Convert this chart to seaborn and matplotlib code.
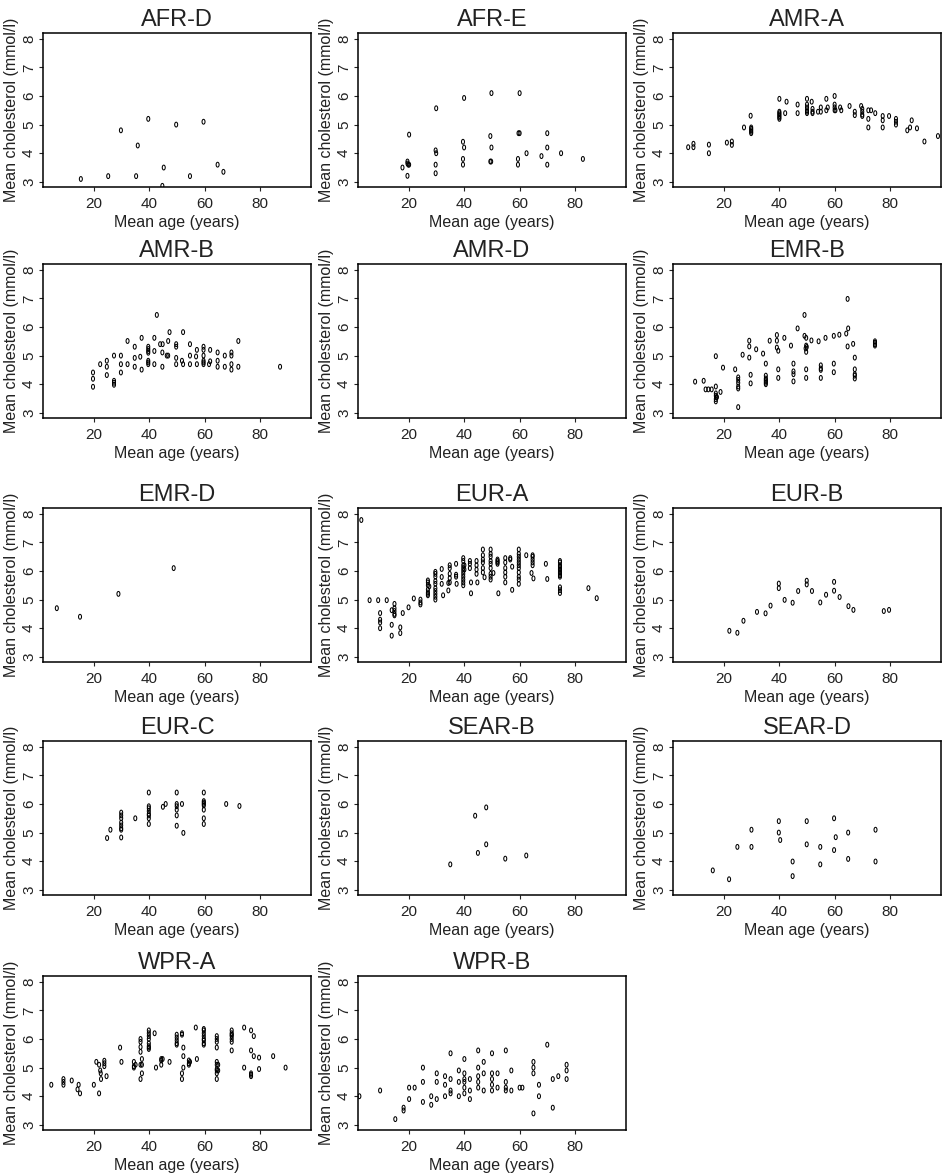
import matplotlib
matplotlib.use("Agg")
import matplotlib.pyplot as plt
import numpy as np
import pandas as pd
import seaborn as sns
from matplotlib.path import Path
from matplotlib.markers import MarkerStyle

# ---- data: (mean age in years, mean cholesterol in mmol/l) per WHO subregion ----
AFR_D = [(15.2, 3.1), (25.1, 3.2), (29.7, 4.8), (35.2, 3.2), (35.8, 4.27), (39.6, 5.2),
         (44.7, 2.86), (45.2, 3.5), (49.7, 5.0), (54.7, 3.2), (59.6, 5.1), (64.7, 3.6),
         (66.8, 3.35)]

AFR_E = [(17.6, 3.5), (19.4, 3.71), (19.4, 3.64), (19.7, 3.6), (20, 3.6), (19.4, 3.21),
         (20, 4.65), (29.6, 4.1), (29.8, 4.0), (29.6, 3.6), (29.6, 3.3), (29.8, 5.57),
         (39.9, 5.93), (39.5, 4.4), (39.9, 4.2), (39.5, 3.8), (39.5, 3.6), (49.8, 6.1),
         (49.4, 4.6), (49.8, 4.2), (49.4, 3.71), (49.7, 3.71), (60, 6.1), (59.6, 4.7),
         (60, 4.7), (59.4, 3.8), (59.4, 3.6), (62.5, 4.0), (67.9, 3.9), (70, 4.7),
         (70, 4.2), (70, 3.6), (75, 4.0), (82.9, 3.8)]

AMR_A = [(7.0, 4.21), (8.9, 4.33), (8.9, 4.21), (14.5, 4.3), (14.5, 4.0), (21, 4.37),
         (22.8, 4.41), (22.8, 4.29), (27.2, 4.9), (29.6, 5.31), (29.8, 4.9), (29.8, 4.85),
         (29.8, 4.8), (29.8, 4.75), (29.8, 4.7), (40, 5.9), (40, 5.45), (40, 5.4),
         (40, 5.35), (40, 5.3), (40, 5.25), (40, 5.2), (42.6, 5.8), (42.1, 5.4),
         (46.6, 5.7), (46.6, 5.4), (50, 5.9), (50, 5.7), (50, 5.6), (50, 5.5), (50, 5.45),
         (50, 5.4), (51.7, 5.8), (52, 5.55), (52, 5.45), (52, 5.4), (54, 5.45), (55, 5.45),
         (55, 5.6), (57, 5.9), (57, 5.5), (57.5, 5.6), (60, 6.0), (60, 5.7), (60, 5.6),
         (60, 5.5), (60.3, 5.5), (62, 5.6), (62.4, 5.5), (65.4, 5.65), (67.3, 5.45),
         (67.3, 5.33), (69.6, 5.65), (70, 5.55), (70, 5.45), (70, 5.35), (70, 5.3),
         (72.2, 5.5), (72.2, 5.2), (72.2, 4.9), (73.2, 5.5), (74.7, 5.4), (77.4, 5.3),
         (77.4, 5.15), (77.4, 4.9), (79.7, 5.3), (82.2, 5.2), (82.2, 5.1), (82.2, 5.0),
         (86.3, 4.8), (87.3, 4.9), (87.9, 5.15), (89.8, 4.87), (92.5, 4.41), (97.4, 4.6)]

AMR_B = [(19.6, 4.41), (19.6, 4.19), (19.6, 3.91), (22.2, 4.7), (24.6, 4.82), (24.6, 4.61),
         (24.6, 4.32), (27.2, 5.0), (27.2, 4.12), (27.2, 4.05), (27.2, 3.98), (29.7, 5.0),
         (29.7, 4.7), (29.7, 4.41), (32.1, 5.51), (32.1, 4.7), (34.7, 5.31), (34.7, 4.92),
         (34.7, 4.61), (36.7, 4.96), (37.2, 5.62), (37.2, 4.51), (39.6, 5.31), (39.6, 5.23),
         (39.6, 5.16), (39.6, 5.1), (39.6, 4.82), (39.6, 4.76), (39.6, 4.7), (41.8, 5.62),
         (41.8, 5.16), (41.8, 4.7), (42.7, 6.42), (43.9, 5.4), (44.8, 5.4), (44.7, 5.11),
         (44.7, 4.61), (46.8, 5.51), (46.8, 5.0), (46.3, 5.0), (47.3, 5.82), (49.7, 5.4),
         (49.7, 5.31), (49.7, 4.92), (49.7, 4.7), (51.8, 4.82), (52.2, 4.7), (52.2, 5.82),
         (54.7, 5.4), (54.7, 5.0), (54.7, 4.7), (57.2, 5.2), (56.9, 4.97), (57.2, 4.7),
         (59.6, 5.31), (59.6, 5.2), (59.6, 5.0), (59.6, 4.82), (59.6, 4.76), (59.6, 4.7),
         (62, 5.2), (62, 4.8), (61.6, 4.7), (64.7, 5.11), (64.7, 4.82), (64.7, 4.61),
         (67.3, 5.0), (67.3, 4.61), (69.7, 5.11), (69.7, 5.0), (69.7, 4.7), (69.7, 4.51),
         (72.2, 5.51), (72.2, 4.61), (87.3, 4.61)]

AMR_D = []

EMR_B = [(9.5, 4.09), (12.6, 4.12), (13.3, 3.82), (14.3, 3.82), (15.5, 3.82), (17, 4.98),
         (17, 3.92), (17, 3.68), (17, 3.6), (17.2, 3.55), (17, 3.48), (17, 3.4), (17.4, 3.55),
         (18.7, 3.73), (19.6, 4.58), (24, 4.52), (25.1, 4.24), (25.1, 4.15), (25.1, 4.05),
         (25.1, 3.92), (25.1, 3.85), (25.1, 3.2), (26.7, 5.03), (29.1, 5.52), (29.1, 5.32),
         (29.1, 4.93), (29.6, 4.33), (29.6, 4.03), (31.6, 5.22), (34.1, 5.07), (35.1, 4.72),
         (35.1, 4.3), (35.1, 4.2), (35.1, 4.15), (35.1, 4.1), (35.1, 4.05), (35.1, 4.0),
         (36.5, 5.52), (39.1, 5.72), (39.1, 5.52), (39.1, 5.28), (39.6, 5.17), (39.6, 4.52),
         (39.6, 4.22), (41.8, 5.62), (44.2, 5.35), (45.1, 4.72), (45.1, 4.45), (45.1, 4.35),
         (45.1, 4.1), (46.6, 5.95), (49.1, 6.42), (49.1, 5.69), (49.7, 5.62), (49.7, 5.35),
         (49.9, 5.3), (49.5, 5.25), (49.7, 5.13), (49.7, 4.52), (49.7, 4.22), (51.6, 5.53),
         (54.2, 5.5), (55, 4.66), (55, 4.55), (55, 4.5), (55, 4.22), (56.7, 5.62),
         (59.7, 5.69), (59.7, 4.72), (59.7, 4.42), (61.7, 5.73), (64.2, 5.77), (64.7, 6.98),
         (64.9, 5.95), (64.7, 5.32), (66.7, 5.41), (67.3, 4.93), (67.3, 4.52), (67.3, 4.35),
         (67.3, 4.3), (67.3, 4.2), (74.6, 5.5), (74.6, 5.45), (74.6, 5.4), (74.6, 5.35)]

EMR_D = [(6.5, 4.7), (14.9, 4.4), (28.8, 5.2), (48.8, 6.1)]

EUR_A = [(2.7, 7.78), (5.7, 4.98), (8.8, 4.98), (11.9, 4.98), (9.5, 4.53), (9.5, 4.3),
         (9.5, 4.2), (9.5, 4.0), (13.7, 4.63), (13.7, 4.12), (13.7, 3.74), (14.7, 4.85),
         (14.7, 4.7), (14.7, 4.6), (14.7, 4.5), (14.7, 4.45), (16.8, 4.03), (16.8, 3.83),
         (17.7, 4.53), (19.8, 4.73), (21.7, 5.04), (24.1, 5.0), (24.1, 4.9), (24.1, 4.83),
         (26.8, 5.67), (26.8, 5.6), (26.8, 5.5), (26.8, 5.35), (26.8, 5.25), (26.8, 5.2),
         (26.8, 5.15), (27.3, 5.46), (29.5, 5.97), (29.5, 5.9), (29.5, 5.8), (29.5, 5.65),
         (29.5, 5.55), (29.5, 5.4), (29.5, 5.3), (29.5, 5.2), (29.5, 5.1), (29.5, 5.0),
         (31.8, 6.07), (31.8, 5.79), (31.8, 5.55), (32.3, 5.15), (34.2, 5.58), (34.2, 5.32),
         (34.7, 6.2), (34.7, 6.1), (34.7, 5.9), (34.7, 5.75), (34.7, 5.6), (37, 6.25),
         (37, 5.87), (37, 5.8), (37.2, 5.55), (39.6, 6.45), (39.6, 6.35), (39.6, 6.2),
         (39.6, 6.1), (39.6, 6.0), (39.6, 5.9), (39.6, 5.8), (39.6, 5.7), (39.6, 5.6),
         (39.6, 5.5), (40, 6.2), (40, 6.05), (42, 6.35), (42, 6.25), (42, 6.1), (42.4, 5.6),
         (42.4, 5.22), (44.4, 6.35), (44.4, 6.2), (44.4, 6.05), (44.4, 5.9), (44.7, 5.6),
         (46.7, 6.75), (46.7, 6.55), (46.7, 6.4), (46.7, 6.3), (46.7, 6.1), (46.7, 5.95),
         (47.3, 5.78), (49.5, 6.75), (49.5, 6.6), (49.5, 6.5), (49.5, 6.35), (49.5, 6.25),
         (49.5, 6.1), (49.5, 5.9), (49.5, 5.8), (49.5, 5.7), (50.5, 5.93), (52, 6.4),
         (52, 6.35), (52, 6.3), (52, 6.25), (52.3, 5.22), (54.8, 6.45), (54.8, 6.3),
         (54.8, 6.1), (54.8, 5.95), (54.8, 5.8), (54.8, 5.6), (56.6, 6.45), (56.6, 6.4),
         (57.3, 6.15), (57.3, 5.34), (59.7, 6.75), (59.7, 6.6), (59.7, 6.5), (59.7, 6.4),
         (59.7, 6.3), (59.7, 6.2), (59.7, 6.1), (59.7, 5.95), (59.7, 5.8), (59.7, 5.7),
         (59.7, 5.55), (62.4, 6.55), (64.7, 6.55), (64.7, 6.5), (64.7, 6.4), (64.7, 6.3),
         (64.7, 6.2), (64.3, 5.93), (65, 5.74), (69.5, 6.25), (70, 5.72), (74.6, 6.35),
         (74.6, 6.3), (74.6, 6.2), (74.6, 6.15), (74.6, 6.1), (74.6, 6.05), (74.6, 6.0),
         (74.6, 5.95), (74.6, 5.9), (74.6, 5.85), (74.6, 5.8), (74.6, 5.43), (74.6, 5.33),
         (74.6, 5.23), (84.9, 5.4), (87.9, 5.05)]

EUR_B = [(21.9, 3.91), (24.8, 3.84), (27, 4.26), (31.9, 4.57), (35, 4.52), (36.8, 4.79),
         (39.8, 5.56), (39.8, 5.4), (41.9, 4.99), (44.8, 4.89), (46.8, 5.3), (49.9, 5.66),
         (49.9, 5.53), (51.8, 5.3), (54.8, 4.9), (56.9, 5.17), (59.8, 5.62), (59.8, 5.31),
         (61.8, 5.09), (65, 4.77), (66.8, 4.64), (77.8, 4.6), (79.7, 4.64)]

EUR_C = [(24.7, 4.81), (25.9, 5.1), (29.8, 5.7), (29.8, 5.6), (29.8, 5.5), (29.8, 5.35),
         (29.8, 5.25), (29.8, 5.15), (29.8, 5.1), (29.8, 4.83), (34.9, 5.5), (39.8, 6.4),
         (39.8, 5.92), (39.8, 5.85), (39.8, 5.75), (39.8, 5.65), (39.8, 5.6), (39.8, 5.5),
         (39.8, 5.3), (44.9, 5.9), (45.9, 6.0), (49.9, 6.4), (49.9, 6.0), (49.9, 5.92),
         (49.9, 5.8), (49.9, 5.6), (49.9, 5.24), (51.8, 6.0), (52.3, 4.99), (59.7, 6.4),
         (59.7, 6.1), (59.7, 6.05), (59.7, 6.0), (59.7, 5.95), (59.7, 5.8), (59.7, 5.5),
         (59.7, 5.3), (67.8, 6.0), (72.6, 5.93)]

SEAR_B = [(34.9, 3.89), (43.9, 5.59), (44.9, 4.29), (47.9, 5.88), (47.9, 4.59),
          (54.8, 4.09), (62.4, 4.2)]

SEAR_D = [(15.9, 3.68), (21.8, 3.37), (24.8, 4.5), (29.9, 5.1), (29.9, 4.5), (39.8, 5.4),
          (39.8, 5.0), (40.3, 4.74), (44.8, 3.99), (44.8, 3.48), (49.9, 5.4), (49.9, 4.59),
          (54.8, 4.5), (54.8, 3.89), (59.8, 5.5), (59.8, 4.39), (60.4, 4.84), (64.9, 5.0),
          (64.9, 4.08), (74.8, 5.1), (74.8, 3.99)]

WPR_A = [(4.5, 4.4), (8.9, 4.6), (8.9, 4.5), (8.9, 4.4), (11.9, 4.55), (14, 4.24),
         (14.4, 4.4), (14.9, 4.1), (19.9, 4.4), (20.8, 5.2), (21.8, 5.1), (21.8, 4.1),
         (22.2, 4.9), (22.4, 4.8), (22.5, 4.6), (23.7, 5.24), (23.7, 5.15), (23.7, 5.05),
         (24.5, 4.7), (29.4, 5.7), (29.9, 5.2), (34.4, 5.2), (34.4, 5.05), (34.4, 5.0),
         (35, 5.1), (36.8, 6.0), (36.8, 5.9), (36.8, 5.72), (36.8, 5.55), (36.8, 5.1),
         (37.3, 5.1), (36.8, 4.6), (37.3, 5.3), (37.3, 4.8), (39.8, 6.3), (39.8, 6.2),
         (39.8, 6.1), (39.8, 6.0), (39.8, 5.85), (39.8, 5.75), (39.8, 5.7), (39.8, 5.65),
         (41.9, 6.2), (42.4, 5.0), (44.3, 5.3), (44.3, 5.25), (44.3, 5.1), (44.8, 5.3),
         (47.3, 5.2), (49.9, 6.15), (49.9, 6.05), (49.9, 5.95), (49.9, 5.85), (49.9, 5.8),
         (51.8, 6.2), (51.8, 6.15), (51.8, 4.8), (51.8, 4.6), (52.3, 5.7), (52.3, 5.4),
         (52.3, 5.0), (54.3, 5.25), (54.3, 5.15), (54.3, 5.1), (54.7, 5.2), (56.8, 6.4),
         (57.2, 5.3), (59.7, 6.35), (59.7, 6.3), (59.7, 6.2), (59.7, 6.1), (59.7, 6.0),
         (59.7, 5.95), (59.7, 5.85), (59.7, 5.8), (64.4, 6.1), (64.4, 6.0), (64.4, 5.9),
         (64.4, 5.7), (64.4, 5.2), (64.4, 5.1), (64.4, 4.95), (64.4, 4.9), (64.4, 4.8),
         (64.4, 4.6), (64.9, 5.1), (64.9, 4.9), (69.8, 6.3), (69.8, 6.2), (69.8, 6.15),
         (69.8, 6.1), (69.8, 6.0), (69.8, 5.9), (69.8, 5.6), (74.3, 6.4), (74.3, 5.0),
         (76.8, 6.3), (76.8, 5.6), (76.8, 4.8), (76.8, 4.75), (76.8, 4.7), (77.8, 6.1),
         (77.8, 5.4), (79.7, 5.35), (79.7, 4.95), (84.8, 5.4), (89.3, 5.0)]

WPR_B = [(2, 4.0), (9.5, 4.2), (15, 3.2), (18, 3.6), (18, 3.5), (20, 3.9), (20, 4.3),
         (22, 4.3), (25, 5.0), (25, 3.8), (25, 4.5), (28, 3.7), (28, 4.0), (30, 4.8),
         (30, 4.5), (30, 3.9), (33, 4.0), (33, 4.4), (33, 4.7), (35, 5.5), (35, 4.6),
         (35, 4.2), (35, 4.1), (38, 4.9), (38, 4.5), (38, 4.0), (40, 5.3), (40, 4.8),
         (40, 4.6), (40, 4.5), (40, 4.3), (40, 4.1), (42, 4.2), (42, 4.6), (42, 3.9),
         (45, 5.6), (45, 5.0), (45, 4.7), (45, 4.5), (45, 4.3), (47, 5.2), (47, 4.2),
         (47, 4.8), (50, 5.5), (50, 4.8), (50, 4.6), (50, 4.4), (50, 4.2), (52, 4.8),
         (52, 4.3), (55, 5.6), (55, 4.5), (55, 4.3), (55, 4.2), (57, 4.9), (57, 4.2),
         (60, 4.3), (61, 4.3), (65, 5.2), (65, 5.0), (65, 4.8), (65, 3.4), (67, 4.4),
         (67, 4.0), (70, 5.8), (72, 3.6), (72, 4.6), (74, 4.7), (77, 5.1), (77, 4.9),
         (77, 4.6)]

REGIONS = ["AFR-D", "AFR-E", "AMR-A", "AMR-B", "AMR-D", "EMR-B", "EMR-D",
           "EUR-A", "EUR-B", "EUR-C", "SEAR-B", "SEAR-D", "WPR-A", "WPR-B"]
REGION_POINTS = [AFR_D, AFR_E, AMR_A, AMR_B, AMR_D, EMR_B, EMR_D,
                 EUR_A, EUR_B, EUR_C, SEAR_B, SEAR_D, WPR_A, WPR_B]

X_TICKS = [20, 40, 60, 80]
Y_TICKS = [3, 4, 5, 6, 7, 8]
X_LABEL = "Mean age (years)"
Y_LABEL = "Mean cholesterol (mmol/l)"

rows = []
for name, pts in zip(REGIONS, REGION_POINTS):
    for age, chol in pts:
        rows.append({"region": name, "age": age, "chol": chol})
df = pd.DataFrame(rows, columns=["region", "age", "chol"])

# ---- styling ----
sns.set_theme(style="ticks")
plt.rcParams["font.family"] = ["Liberation Sans", "DejaVu Sans"]
plt.rcParams["text.color"] = "#222222"
plt.rcParams["axes.labelcolor"] = "#222222"
plt.rcParams["xtick.color"] = "#222222"
plt.rcParams["ytick.color"] = "#222222"

# small upright open ellipse, like a plotted "o"
theta = np.linspace(0, 2 * np.pi, 48)
ellipse = Path(np.column_stack([0.62 * np.cos(theta), np.sin(theta)]), closed=True)
ring = MarkerStyle(ellipse)

W, H = 947, 1173
fig = plt.figure(figsize=(W / 100, H / 100), dpi=100)
col_left = [43, 358, 673]
row_top = [33, 264, 508, 741, 976]
ax_w, ax_h = 268, 154

for i, name in enumerate(REGIONS):
    r, c = divmod(i, 3)
    left = col_left[c] / W
    bottom = 1 - (row_top[r] + ax_h) / H
    ax = fig.add_axes([left, bottom, ax_w / W, ax_h / H])
    sub = df[df["region"] == name]
    if len(sub):
        sns.scatterplot(data=sub, x="age", y="chol", ax=ax, marker=ring, s=12,
                        facecolors="none", edgecolors="black", linewidths=0.75,
                        legend=False)
    ax.set_xlim(1.5, 98.5)
    ax.set_ylim(2.82, 8.2)
    ax.set_xticks(X_TICKS)
    ax.set_yticks(Y_TICKS)
    ax.set_yticklabels([str(v) for v in Y_TICKS], rotation=90, va="center")
    ax.tick_params(axis="both", labelsize=11, length=3, width=0.8, pad=2,
                   direction="out")
    ax.tick_params(axis="x", pad=4)
    ax.set_xlabel(X_LABEL, fontsize=11.5, labelpad=3)
    ax.set_ylabel(Y_LABEL, fontsize=11.5, labelpad=2)
    ax.set_title(name, fontsize=17, pad=5)
    for sp in ax.spines.values():
        sp.set_visible(True)
        sp.set_color("black")
        sp.set_linewidth(1.1)

fig.savefig("out.png", dpi=100, facecolor="white")
